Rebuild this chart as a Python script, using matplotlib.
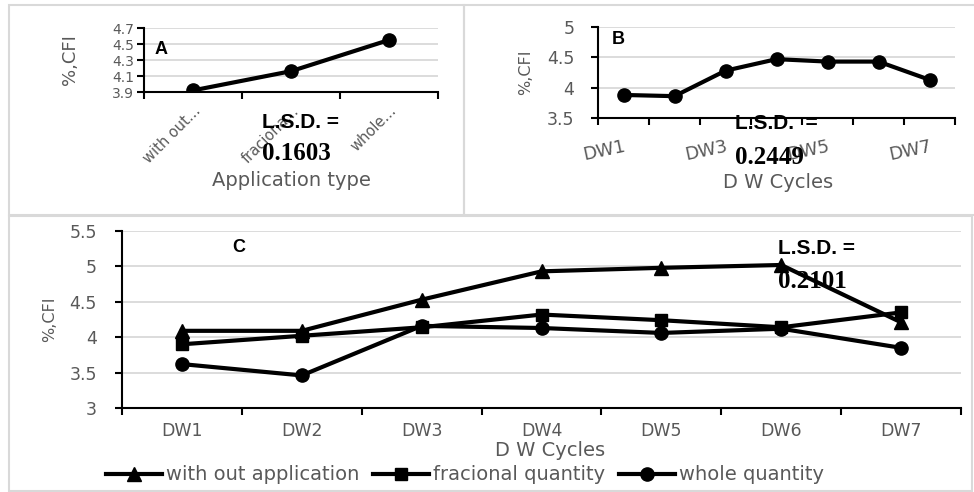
import matplotlib.pyplot as plt
from matplotlib.patches import Rectangle

# data
app_types = ['with out...', 'fraciona...', 'whole...']
cfi_app = [3.92, 4.16, 4.55]

cycles = ['DW1', 'DW2', 'DW3', 'DW4', 'DW5', 'DW6', 'DW7']
cfi_cycles = [3.88, 3.86, 4.28, 4.47, 4.43, 4.43, 4.13]

without_app = [4.09, 4.09, 4.53, 4.93, 4.98, 5.02, 4.21]
fracional_q = [3.90, 4.02, 4.14, 4.32, 4.24, 4.14, 4.35]
whole_q = [3.62, 3.46, 4.16, 4.13, 4.06, 4.12, 3.85]

W, H = 974, 492
gray_txt = '#595959'
grid_c = '#d9d9d9'
plt.rcParams['font.family'] = ['DejaVu Sans']

fig = plt.figure(figsize=(W / 100, H / 100), dpi=100)


def px_axes(l, t, r, b):
    return fig.add_axes([l / W, 1 - b / H, (r - l) / W, (b - t) / H])


def style(ax, n, yticks, fs=12.5, ypad=3):
    ax.set_xlim(-0.5, n - 0.5)
    ax.set_ylim(yticks[0], yticks[-1])
    ax.set_yticks(yticks)
    ax.set_xticks([i - 0.5 for i in range(n + 1)])
    ax.set_xticklabels([])
    ax.grid(axis='y', color=grid_c, lw=1.3)
    ax.set_axisbelow(True)
    for s in ['top', 'right']:
        ax.spines[s].set_visible(False)
    ax.spines['left'].set_linewidth(1.5)
    ax.spines['bottom'].set_linewidth(1.5)
    ax.tick_params(axis='both', direction='out', width=1.5, length=5,
                   labelsize=fs, labelcolor=gray_txt)
    ax.tick_params(axis='y', pad=ypad)
    ax.tick_params(axis='x', which='minor', length=0)


def label(x, y, s, kind, **kw):
    if kind == 'letter':
        kw.update(family='Liberation Sans', weight='bold', fontsize=13)
    elif kind == 'lsd':
        kw.update(family='Liberation Sans', weight='bold', fontsize=15)
    elif kind == 'num':
        kw.update(family='Liberation Serif', weight='bold', fontsize=18)
    else:
        kw.update(color=gray_txt, fontsize=14, ha='center')
    fig.text(x / W, 1 - y / H, s, va='center', **kw)


# panel borders
for (l, t, r, b) in [(9, 5, 464, 215), (464, 5, 976, 215), (9, 216, 972, 491)]:
    fig.patches.append(Rectangle((l / W, 1 - b / H), (r - l) / W, (b - t) / H,
                                 transform=fig.transFigure, fill=False,
                                 ec='#d9d9d9', lw=1.5))

lw, ms = 3.0, 9.5

# panel A
axA = px_axes(144, 28, 438, 92)
style(axA, 3, [3.9, 4.1, 4.3, 4.5, 4.7], fs=10, ypad=2)
axA.plot(range(3), cfi_app, color='black', lw=lw, marker='o', ms=ms)
axA.set_xticks(range(3), minor=True)
axA.set_xticklabels(app_types, minor=True, rotation=45, ha='right',
                    rotation_mode='anchor', color=gray_txt, fontsize=10.5)
axA.tick_params(axis='x', which='minor', pad=8)
axA.set_ylabel('%,CFI', color=gray_txt, fontsize=13, labelpad=24)
label(155, 49, 'A', 'letter')
label(262, 122, 'L.S.D. =', 'lsd')
label(262, 154, '0.1603', 'num')
label(291, 181, 'Application type', 'title')

# panel B
axB = px_axes(598, 27, 955, 118)
style(axB, 7, [3.5, 4, 4.5, 5], ypad=12)
axB.set_yticklabels(['3.5', '4', '4.5', '5'])
axB.plot(range(7), cfi_cycles, color='black', lw=lw, marker='o', ms=ms)
axB.set_xticks(range(0, 7, 2), minor=True)
axB.set_xticklabels(cycles[::2], minor=True, rotation=12, ha='right',
                    rotation_mode='anchor', color=gray_txt, fontsize=13)
axB.tick_params(axis='x', which='minor', pad=14)
axB.set_ylabel('%,CFI', color=gray_txt, fontsize=11.5, labelpad=10)
label(612, 40, 'B', 'letter')
label(735, 124, 'L.S.D.  =', 'lsd')
label(735, 157, '0.2449', 'num')
label(778, 183, 'D W Cycles', 'title')

# panel C
axC = px_axes(122, 231, 961, 408)
style(axC, 7, [3, 3.5, 4, 4.5, 5, 5.5], ypad=13)
axC.set_yticklabels(['3', '3.5', '4', '4.5', '5', '5.5'])
x = range(7)
axC.plot(x, without_app, color='black', lw=lw, marker='^', ms=10,
         label='with out application')
axC.plot(x, fracional_q, color='black', lw=lw, marker='s', ms=9,
         label='fracional quantity')
axC.plot(x, whole_q, color='black', lw=lw, marker='o', ms=ms,
         label='whole quantity')
axC.set_xticks(range(7), minor=True)
axC.set_xticklabels(cycles, minor=True, color=gray_txt, fontsize=12.5)
axC.tick_params(axis='x', which='minor', pad=10)
axC.set_ylabel('%,CFI', color=gray_txt, fontsize=11.5, labelpad=9)
label(232, 248, 'C', 'letter')
label(778, 249, 'L.S.D. =', 'lsd')
label(778, 282, '0.2101', 'num')
label(550, 451, 'D W Cycles', 'title')

handles, labels = axC.get_legend_handles_labels()
leg = fig.legend(handles, labels, loc='center', ncol=3, frameon=False,
                 bbox_to_anchor=(465 / W, 1 - 475 / H), fontsize=14,
                 handlelength=2.9, handletextpad=0.2, columnspacing=0.7,
                 borderaxespad=0)
for t in leg.get_texts():
    t.set_color(gray_txt)

fig.savefig('out.png', dpi=100)
